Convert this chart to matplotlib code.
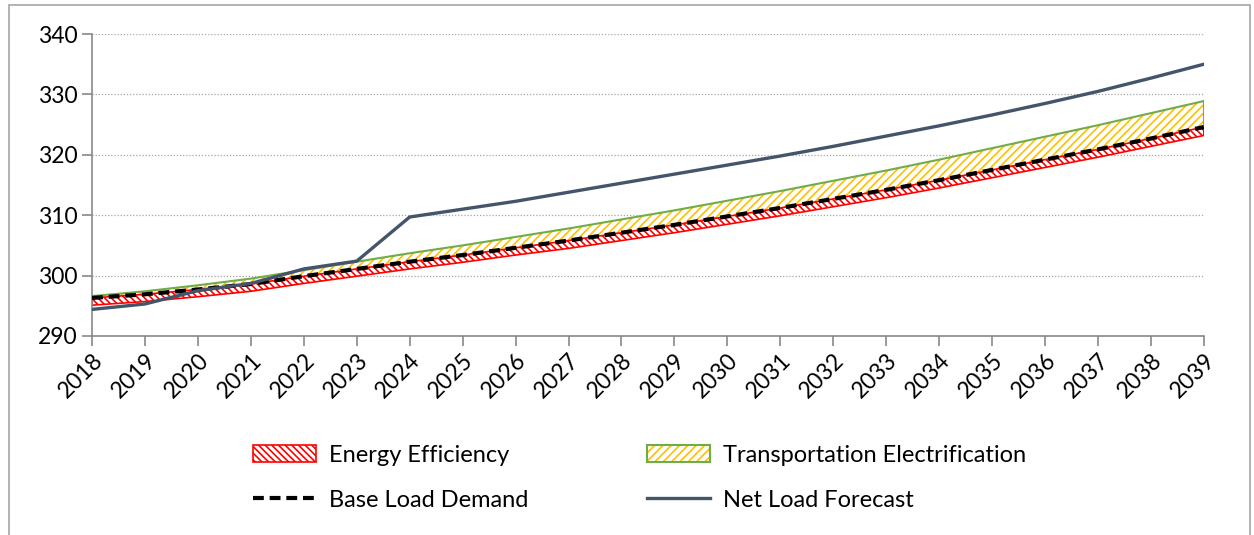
import matplotlib.pyplot as plt
from matplotlib.patches import Patch, Rectangle
from matplotlib.lines import Line2D

plt.rcParams['font.family'] = ['Lato', 'DejaVu Sans']
plt.rcParams['hatch.linewidth'] = 1.2

years = list(range(2018, 2040))

# base demand forecast (dashed)
base_load = [296.3, 296.9, 297.7, 298.6, 299.9, 301.1, 302.3, 303.4, 304.6, 305.8, 307.1,
             308.4, 309.8, 311.2, 312.7, 314.2, 315.8, 317.5, 319.2, 320.9, 322.7, 324.6]
# lower edge after energy efficiency
energy_eff = [295.1, 295.7, 296.5, 297.4, 298.7, 299.9, 301.1, 302.2, 303.4, 304.5, 305.8,
              307.1, 308.5, 309.9, 311.4, 312.9, 314.5, 316.2, 317.9, 319.6, 321.4, 323.2]
# upper edge after transportation electrification
transport_el = [296.6, 297.4, 298.4, 299.5, 300.9, 302.3, 303.7, 305.0, 306.4, 307.8, 309.3,
                310.8, 312.4, 314.0, 315.7, 317.4, 319.2, 321.1, 323.0, 324.9, 326.9, 328.9]
net_load = [294.4, 295.3, 297.5, 298.7, 301.1, 302.4, 309.7, 311.0, 312.3, 313.8, 315.3,
            316.8, 318.3, 319.8, 321.4, 323.1, 324.8, 326.6, 328.5, 330.5, 332.7, 335.0]

fig = plt.figure(figsize=(12.54, 5.35), dpi=100)
ax = fig.add_axes([0.0734, 0.372, 0.8866, 0.5644])

net_color = '#44546A'
dash = (0, (2.6, 1.4))

# transportation electrification band
ax.fill_between(years, base_load, transport_el, facecolor='white', edgecolor='#FFC000',
                hatch='////', linewidth=0, zorder=2)
ax.plot(years, transport_el, color='#70AD47', lw=1.5, zorder=3)
ax.plot([years[-1], years[-1]], [base_load[-1], transport_el[-1]], color='#70AD47', lw=1.5, zorder=3)

# energy efficiency band
ax.fill_between(years, energy_eff, base_load, facecolor='white', edgecolor='#FF0000',
                hatch='\\\\\\\\\\', linewidth=1.2, zorder=2)

ax.plot(years, base_load, color='black', lw=3.0, ls=dash, zorder=4)
ax.plot(years, net_load, color=net_color, lw=2.4, zorder=5)

ax.set_xlim(2018, 2039)
ax.set_ylim(290, 340)
ax.set_xticks(years)
ax.set_xticklabels([str(y) for y in years], rotation=45, ha='right', rotation_mode='anchor')
ax.set_yticks(range(290, 341, 10))
ax.tick_params(axis='both', labelsize=16.5, color='#898989', length=7, width=1.2)
ax.tick_params(axis='x', pad=3)
ax.grid(axis='y', color='#A6A6A6', ls=(0, (1, 1.5)), lw=0.9)
ax.set_axisbelow(True)
for s in ['top', 'right']:
    ax.spines[s].set_visible(False)
for s in ['left', 'bottom']:
    ax.spines[s].set_color('#898989')
    ax.spines[s].set_linewidth(1.2)

handles = [
    Patch(facecolor='white', edgecolor='#FF0000', hatch='\\\\\\\\\\', lw=1.2),
    (Patch(facecolor='white', edgecolor='#FFC000', hatch='////', lw=0),
     Patch(fill=False, edgecolor='#70AD47', lw=1.5)),
    Line2D([], [], color='black', lw=3.0, ls=dash),
    Line2D([], [], color=net_color, lw=2.4),
]
labels = ['Energy Efficiency', 'Transportation Electrification',
          'Base Load Demand', 'Net Load Forecast']
# order for 2 columns (column-major fill)
order = [0, 2, 1, 3]
fig.legend([handles[i] for i in order], [labels[i] for i in order], ncol=2,
           loc='center', bbox_to_anchor=(0.51, 0.107), frameon=False, fontsize=17,
           handlelength=2.7, handleheight=0.75, handletextpad=0.55,
           labelspacing=1.0, columnspacing=5.0)

# outer chart border
fig.patches.append(Rectangle((0.007, -0.02), 0.99, 1.01, transform=fig.transFigure,
                             fill=False, edgecolor='#A6A6A6', lw=1.2))

fig.savefig('out.png', dpi=100)
